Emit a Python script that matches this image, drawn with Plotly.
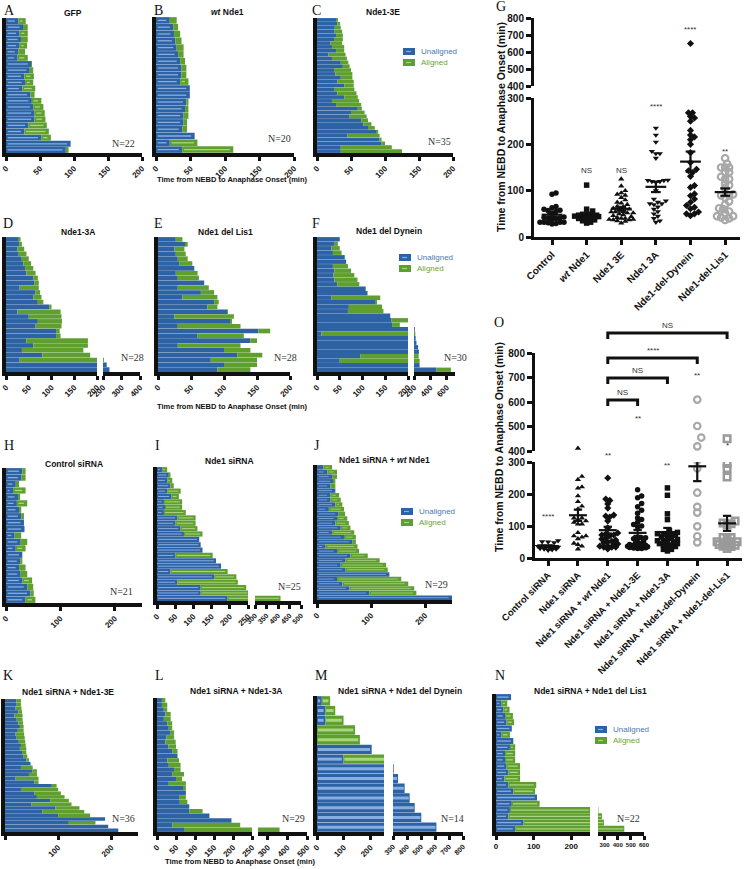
import plotly.graph_objects as go

W, H = 744, 869
SANS = "Liberation Sans"
SERIF = "Liberation Serif"
BLUE, GREEN = "#2d62a5", "#5f9f30"
BLUE_L, GREEN_L = "#86aee2", "#a9d67c"
INK = "#111111"

# ---------------- data (minutes) : unaligned duration, total duration ----------------
gfp_u = [18, 25, 20, 22, 20, 18, 17, 37, 35, 27, 28, 24, 36, 38, 40, 42, 42, 33, 27, 52, 95, 88]
gfp_t = [29, 32, 32, 32, 31, 28, 32, 38, 40, 41, 40, 43, 42, 52, 55, 57, 58, 60, 63, 66, 95, 92]

wt_u = [20, 25, 26, 28, 30, 32, 35, 37, 37, 35, 49, 49, 44, 42, 40, 40, 38, 56, 20, 38]
wt_t = [30, 32, 35, 37, 40, 40, 42, 44, 44, 47, 49, 49, 47, 47, 47, 45, 45, 56, 60, 112]

e3_u = [28, 30, 25, 26, 28, 25, 20, 22, 28, 17, 22, 35, 38, 25, 27, 35, 30, 40, 25, 30, 40, 22, 28, 60, 50,
        48, 65, 68, 75, 88, 45, 92, 95, 35, 35]
e3_t = [30, 34, 35, 37, 38, 38, 37, 40, 40, 42, 44, 46, 48, 50, 52, 52, 54, 54, 55, 58, 60, 62, 65, 66, 70,
        73, 75, 80, 85, 90, 92, 95, 100, 110, 125]

a3_u = [28, 30, 25, 28, 33, 38, 42, 45, 60, 62, 30, 65, 60, 70, 95, 25, 50, 70, 65, 110, 110, 45, 60, 35, 80,
        30, 220, 235]
a3_t = [32, 35, 40, 45, 50, 55, 60, 65, 70, 72, 72, 75, 78, 82, 100, 120, 122, 123, 122, 118, 120, 180, 180,
        170, 185, 205, 220, 235]

dl_u = [27, 42, 25, 27, 30, 32, 55, 27, 30, 70, 30, 65, 37, 85, 75, 105, 25, 110, 30, 152, 60, 140, 30, 100,
        120, 80, 100, 90]
dl_t = [37, 45, 40, 42, 45, 52, 55, 60, 62, 70, 77, 85, 90, 92, 90, 106, 115, 112, 125, 170, 130, 150, 125, 140,
        158, 150, 150, 140]

dd_u = [50, 39, 32, 35, 61, 64, 35, 38, 36, 38, 45, 107, 111, 32, 129, 70, 68, 161, 164, 165, 210, 10, 220, 230,
        250, 260, 95, 50, 268, 475]
dd_t = [50, 46, 50, 54, 61, 64, 68, 75, 82, 89, 93, 107, 111, 139, 131, 143, 146, 161, 200, 182, 210, 216, 220,
        230, 250, 260, 257, 268, 268, 650]

csi_u = [30, 28, 18, 13, 22, 20, 24, 28, 33, 34, 16, 27, 18, 30, 26, 24, 27, 30, 39, 45, 36]
csi_t = [36, 36, 24, 36, 26, 39, 28, 33, 33, 34, 28, 39, 36, 30, 30, 36, 39, 48, 50, 51, 54]

nsi_u = [14, 32, 28, 37, 28, 40, 19, 22, 19, 56, 51, 65, 74, 116, 120, 125, 51, 162, 176, 37, 157, 56, 120, 120, 194]
nsi_t = [28, 37, 42, 46, 65, 60, 69, 69, 79, 106, 106, 111, 125, 116, 120, 125, 153, 162, 176, 194, 218, 222, 245,
         255, 411]

rwt_u = [12, 19, 28, 31, 25, 34, 25, 25, 34, 22, 40, 37, 34, 44, 28, 50, 66, 16, 37, 62, 53, 44, 53, 134, 37, 47,
         60, 97, 250]
rwt_t = [28, 37, 37, 34, 34, 34, 41, 44, 47, 50, 52, 56, 59, 62, 69, 72, 72, 75, 78, 94, 116, 128, 131, 134, 156,
         169, 180, 184, 250]

r3e_u = [21, 22, 20, 25, 18, 22, 25, 28, 24, 20, 22, 26, 30, 28, 32, 35, 40, 48, 30, 51, 45, 20, 55, 88, 30, 55,
         60, 85, 50, 95, 70, 100, 188, 120, 194, 213]
r3e_t = [30, 30, 31, 32, 33, 33, 34, 35, 35, 36, 37, 38, 39, 40, 40, 42, 45, 48, 52, 60, 60, 63, 63, 97, 100, 105,
         112, 120, 125, 140, 149, 160, 188, 170, 194, 213]

r3a_u = [13, 13, 18, 22, 18, 27, 31, 36, 25, 22, 30, 40, 54, 27, 31, 45, 40, 50, 31, 71, 76, 58, 60, 85, 85, 138,
         196, 40, 71]
r3a_t = [22, 27, 27, 36, 36, 40, 40, 45, 45, 49, 50, 54, 54, 58, 62, 62, 71, 66, 76, 76, 76, 76, 80, 85, 120, 138,
         196, 219, 360]

rdd_u = [18, 31, 31, 0, 0, 204, 99, 305, 336, 383, 419, 455, 502, 610]
rdd_t = [49, 68, 99, 142, 160, 204, 280, 305, 336, 383, 419, 455, 502, 610]

rdl_u = [40, 15, 20, 24, 28, 42, 15, 46, 37, 24, 24, 28, 33, 22, 33, 46, 109, 42, 37, 33, 73, 51]
rdl_t = [40, 30, 36, 45, 48, 42, 37, 46, 51, 51, 51, 64, 64, 64, 107, 104, 109, 116, 253, 280, 295, 450]

g_labels = ["Control", "<i>wt</i> Nde1", "Nde1 3E", "Nde1 3A", "Nde1-del-Dynein", "Nde1-del-Lis1"]
g_stars = ["", "NS", "NS", "****", "****", "**"]
o_labels = ["Control siRNA", "Nde1 siRNA", "Nde1 siRNA + <i>wt</i> Nde1", "Nde1 siRNA + Nde1-3E",
            "Nde1 siRNA + Nde1-3A", "Nde1 siRNA + Nde1-del-Dynein", "Nde1 siRNA + Nde1-del-Lis1"]
o_stars = ["****", "", "**", "**", "**", "**", "*"]
o_brackets = [(2, 6, "NS"), (2, 5, "****"), (2, 4, "NS"), (2, 3, "NS")]
xtitle = "Time from NEBD to Anaphase Onset (min)"

# ---------------- helpers ----------------
fig = go.Figure()
lay = dict(width=W, height=H, margin=dict(l=0, r=0, t=0, b=0, autoexpand=False), paper_bgcolor="white",
           plot_bgcolor="rgba(0,0,0,0)", barmode="overlay", showlegend=False,
           font=dict(family=SANS, color=INK))
cnt = {"x": 0, "y": 0}
annots, shapes = [], []


def new_axis(k):
    cnt[k] += 1
    n = cnt[k]
    s = str(n) if n > 1 else ""
    return f"{k}axis{s}", f"{k}{s}"


def fx(p):
    return p / W


def fy(p):
    return 1 - p / H


def text(x, y, s, size=8, family=SANS, color=INK, xanchor="center", angle=0):
    annots.append(dict(x=fx(x), y=fy(y), xref="paper", yref="paper", text=s, showarrow=False,
                       font=dict(family=family, size=size, color=color), xanchor=xanchor,
                       yanchor="middle", textangle=angle))


def bar_panel(u, t, top, bot, segs, angle=-45, stripe=0, tfs=8):
    n = len(t)
    yname, yref = new_axis("y")
    xs = []
    for seg in segs:
        lo, hi, x0, x1, tv = seg[:5]
        fs = seg[5] if len(seg) > 5 else tfs
        xname, xref = new_axis("x")
        lay[xname] = dict(domain=[fx(x0), fx(x1)], range=[lo, hi], anchor=yref, showline=True,
                          linecolor=INK, linewidth=3.5, ticks="outside", tickvals=tv, ticklen=4,
                          tickwidth=3, tickcolor=INK, tickangle=angle, automargin=False,
                          tickfont=dict(family=SANS, size=fs, color=INK, weight="bold"),
                          showgrid=False, zeroline=False, fixedrange=True)
        xs.append(xref)
    lay[yname] = dict(domain=[fy(bot), fy(top)], range=[n - 0.5, -0.5], anchor=xs[0], showline=True,
                      linecolor=INK, linewidth=4, showticklabels=False, ticks="", showgrid=False,
                      zeroline=False, fixedrange=True, automargin=False)
    idx = list(range(n))
    g = [b - a for a, b in zip(u, t)]
    e = 0.025 * (segs[0][1] - segs[0][0])
    bsx, bsy, gsx, gsy = [], [], [], []
    for i in idx:
        if u[i] - 2 * e > 0:
            bsx += [e * 0.5, u[i] - e, None]
            bsy += [i, i, None]
        if g[i] - 2 * e > 0:
            gsx += [u[i] + e * 0.5, t[i] - e, None]
            gsy += [i, i, None]
    for xref in xs:
        fig.add_trace(go.Bar(orientation="h", y=idx, x=u, base=[0] * n, width=0.96,
                             marker=dict(color=BLUE, line=dict(width=0)), xaxis=xref, yaxis=yref,
                             hoverinfo="skip"))
        fig.add_trace(go.Bar(orientation="h", y=idx, x=g, base=u, width=0.96,
                             marker=dict(color=GREEN, line=dict(width=0)), xaxis=xref, yaxis=yref,
                             hoverinfo="skip"))
        if stripe:
            fig.add_trace(go.Scatter(x=bsx, y=bsy, mode="lines", line=dict(color=BLUE_L, width=stripe),
                                     xaxis=xref, yaxis=yref, hoverinfo="skip"))
            fig.add_trace(go.Scatter(x=gsx, y=gsy, mode="lines", line=dict(color=GREEN_L, width=stripe),
                                     xaxis=xref, yaxis=yref, hoverinfo="skip"))


def swarm(vals, ypix, ppx, d, maxc=0.36):
    order = sorted(range(len(vals)), key=lambda i: vals[i])
    placed = []
    offs = [0.0] * len(vals)
    cands = [0.0]
    k = 1
    while k * d * 0.5 / ppx <= maxc:
        cands += [k * d * 0.5, -k * d * 0.5]
        k += 1
    for i in order:
        yv = ypix(vals[i])
        best, bestd = None, -1
        for c in cands:
            md = min([((c - a) ** 2 + (yv - b) ** 2) ** 0.5 for a, b in placed] + [99])
            if md >= d:
                best = c
                break
            if md > bestd:
                bestd, best = md, c
        placed.append((best, yv))
        offs[i] = best / ppx
    return offs


def scatter_panel(groups, styles, labels, xd, xr, low, up, tfs_x=9.5):
    xname, xref = new_axis("x")
    lname, lref = new_axis("y")
    uname, uref = new_axis("y")
    ax = dict(showline=True, linecolor=INK, linewidth=3, ticks="outside", ticklen=5, tickwidth=3,
              tickcolor=INK, showgrid=False, zeroline=False, fixedrange=True, automargin=False,
              tickfont=dict(family=SANS, size=10, color=INK, weight="bold"))
    lay[xname] = dict(ax, domain=[fx(xd[0]), fx(xd[1])], range=xr, anchor=lref,
                      tickvals=list(range(len(labels))), ticktext=labels, tickangle=-45,
                      tickfont=dict(family=SANS, size=tfs_x, color=INK, weight="bold"))
    lay[lname] = dict(ax, domain=[fy(low[1]), fy(low[0])], range=[0, 300], anchor=xref,
                      tickvals=[0, 100, 200, 300])
    lay[uname] = dict(ax, domain=[fy(up[1]), fy(up[0])], range=[400, 800], anchor=xref,
                      tickvals=[400, 500, 600, 700, 800])
    ppx = (xd[1] - xd[0]) / (xr[1] - xr[0])

    def ypix(v):
        if v < 400:
            return low[1] - v * (low[1] - low[0]) / 300
        return up[1] - (v - 400) * (up[1] - up[0]) / 400

    for k, (vals, st) in enumerate(zip(groups, styles)):
        offs = swarm(vals, ypix, ppx, 4.0)
        marker = dict(symbol=st["symbol"], size=st.get("size", 5.5), color=st["color"],
                      line=dict(width=st.get("lw", 0), color=st["color"]))
        for sel, yr in ((lambda v: v < 400, lref), (lambda v: v >= 400, uref)):
            px_ = [k + o for o, v in zip(offs, vals) if sel(v)]
            py_ = [v for v in vals if sel(v)]
            if px_:
                fig.add_trace(go.Scatter(x=px_, y=py_, mode="markers", marker=marker, xaxis=xref,
                                         yaxis=yr, hoverinfo="skip"))
        n = len(vals)
        m = sum(vals) / n
        se = (sum((v - m) ** 2 for v in vals) / (n - 1)) ** 0.5 / n ** 0.5
        xs = [k - 0.3, k + 0.3, None, k, k, None, k - 0.14, k + 0.14, None, k - 0.14, k + 0.14]
        ys = [m, m, None, m - se, m + se, None, m - se, m - se, None, m + se, m + se]
        fig.add_trace(go.Scatter(x=xs, y=ys, mode="lines", line=dict(color=INK, width=2.2),
                                 xaxis=xref, yaxis=lref if m < 300 else uref, hoverinfo="skip"))
    return xref


# ---------------- bar panels ----------------
T5 = [0, 50, 100, 150, 200]
# row 1
bar_panel(gfp_u, gfp_t, 18, 153, [(0, 200, 6, 142, T5)], stripe=1.3)
bar_panel(wt_u, wt_t, 17, 153, [(0, 200, 156, 294, T5)], stripe=1.3)
bar_panel(e3_u, e3_t, 18, 153, [(0, 200, 317, 453, T5)])
# row 2
bar_panel(a3_u, a3_t, 237, 372, [(0, 200, 6, 97, T5), (200, 400, 103, 140, [200, 300, 400])])
bar_panel(dl_u, dl_t, 237, 372, [(0, 200, 158, 290, T5)])
bar_panel(dd_u, dd_t, 237, 372, [(0, 200, 317, 408, T5), (200, 700, 414, 455, [200, 400, 600])])
# row 3
bar_panel(csi_u, csi_t, 468, 603, [(0, 250, 6, 142, [0, 100, 200])], stripe=1.3)
bar_panel(nsi_u, nsi_t, 467, 601, [(0, 250, 157, 248, [0, 50, 100, 150, 200, 250]),
                                   (300, 500, 255, 301, [300, 350, 400, 450, 500], 7)], stripe=1.0)
bar_panel(rwt_u, rwt_t, 465, 600, [(0, 250, 317, 452, [0, 100, 200])], stripe=0.8)
# row 4
bar_panel(r3e_u, r3e_t, 699, 832, [(0, 250, 5, 138, [0, 100, 200])])
bar_panel(r3a_u, r3a_t, 698, 832, [(0, 250, 157, 252, [0, 50, 100, 150, 200, 250]),
                                   (250, 500, 258, 307, [300, 400, 500])])
bar_panel(rdd_u, rdd_t, 696, 832, [(0, 250, 317, 384, [0, 100, 200]),
                                   (300, 800, 393, 463, [300, 400, 500, 600, 700, 800], 7)], stripe=3)
bar_panel(rdl_u, rdl_t, 694, 832, [(0, 250, 496, 590, [0, 100, 200]),
                                   (250, 600, 598, 644, [300, 400, 500, 600], 6)], angle=0, stripe=1.3)

# ---------------- scatter panels ----------------
blk = INK
g_styles = [dict(symbol="circle", color=blk), dict(symbol="square", color=blk),
            dict(symbol="triangle-up", color=blk), dict(symbol="triangle-down", color=blk),
            dict(symbol="diamond", color=blk),
            dict(symbol="circle-open", color="#a8a8a8", lw=2.2, size=6.5)]
gx = scatter_panel([gfp_t, wt_t, e3_t, a3_t, dd_t, dl_t], g_styles, g_labels, (534, 740), [-0.52, 5.43],
                   (98, 237), (18, 86), tfs_x=10)
o_styles = [dict(symbol="triangle-down", color=blk), dict(symbol="triangle-up", color=blk),
            dict(symbol="diamond", color=blk), dict(symbol="circle", color=blk),
            dict(symbol="square", color=blk),
            dict(symbol="circle-open", color="#a8a8a8", lw=2.2, size=6.5),
            dict(symbol="square-open", color="#9a9a9a", lw=2.5, size=6.5)]
ox = scatter_panel([csi_t, nsi_t, rwt_t, r3e_t, r3a_t, rdd_t, rdl_t], o_styles, o_labels, (535, 742),
                   [-0.44, 6.5], (462, 558), (353, 451), tfs_x=9.5)

g_star_y = [0, 164, 164, 100, 23, 145]
for k, s in enumerate(g_stars):
    if s:
        annots.append(dict(x=k, y=fy(g_star_y[k]), xref=gx, yref="paper", text=s, showarrow=False,
                           font=dict(family=SANS, size=8, color="#333333")))
o_star_y = [516, 0, 455, 418, 465, 376, 445]
for k, s in enumerate(o_stars):
    if s:
        annots.append(dict(x=k, y=fy(o_star_y[k]), xref=ox, yref="paper", text=s, showarrow=False,
                           font=dict(family=SANS, size=8, color="#333333")))
br_y = [333, 358, 378, 400]
for (a, b, s), yy in zip(o_brackets, br_y):
    shapes.append(dict(type="path", xref=ox, yref="paper",
                       path=f"M {a},{fy(yy + 6)} L {a},{fy(yy)} L {b},{fy(yy)} L {b},{fy(yy + 6)}",
                       line=dict(color=INK, width=3)))
    annots.append(dict(x=(a + b) / 2, y=fy(yy - 8), xref=ox, yref="paper", text=s, showarrow=False,
                       font=dict(family=SANS, size=8, color="#333333")))

text(501, 127, "<b>" + xtitle + "</b>", size=10.5, angle=-90)
text(499, 447, "<b>" + xtitle + "</b>", size=10.5, angle=-90)

# ---------------- labels ----------------
letters = [("A", 2, 10), ("B", 152, 10), ("C", 310, 10), ("G", 494, 6), ("D", 1, 223), ("E", 152, 223),
           ("F", 310, 223), ("O", 492, 323), ("H", 2, 445), ("I", 153, 445), ("J", 312, 445),
           ("K", 1, 675), ("L", 153, 675), ("M", 313, 675), ("N", 493, 675)]
for s, x, y in letters:
    text(x, y, s, size=14, family=SERIF, xanchor="left")

titles = [("GFP", 73, 13), ("<i>wt</i> Nde1", 227, 12), ("Nde1-3E", 383, 12), ("Nde1-3A", 78, 232),
          ("Nde1 del Lis1", 225, 232), ("Nde1 del Dynein", 389, 231), ("Control siRNA", 74, 464),
          ("Nde1 siRNA", 229, 461), ("Nde1 siRNA + <i>wt</i> Nde1", 384, 460),
          ("Nde1 siRNA + Nde1-3E", 68, 692), ("Nde1 siRNA + Nde1-3A", 236, 691),
          ("Nde1 siRNA + Nde1 del Dynein", 400, 691), ("Nde1 siRNA + Nde1 del Lis1", 590, 691)]
for s, x, y in titles:
    text(x, y, "<b>" + s + "</b>", size=8.5)

ns = [("N=22", 123, 144), ("N=20", 279, 138), ("N=35", 439, 141), ("N=28", 132, 357), ("N=28", 285, 357),
      ("N=30", 455, 357), ("N=21", 121, 591), ("N=25", 289, 586), ("N=29", 436, 584), ("N=36", 123, 818),
      ("N=29", 293, 818), ("N=14", 452, 818), ("N=22", 628, 818)]
for s, x, y in ns:
    text(x, y, s, size=10, family=SERIF, color="#333333")

for x, y in ((232, 179), (232, 406), (240, 861)):
    text(x, y, "<b>" + xtitle + "</b>", size=7.5)

# custom legends
for lx, ly in ((403, 48), (399, 254), (401, 508), (595, 726)):
    for j, (col, lcol, lab, tcol) in enumerate(((BLUE, BLUE_L, "Unaligned", "#4a78b5"),
                                                 (GREEN, GREEN_L, "Aligned", "#6aa536"))):
        y0 = ly + j * 11
        shapes.append(dict(type="rect", xref="paper", yref="paper", x0=fx(lx), x1=fx(lx + 12),
                           y0=fy(y0 + 7), y1=fy(y0), fillcolor=col, line=dict(width=0)))
        shapes.append(dict(type="line", xref="paper", yref="paper", x0=fx(lx + 3), x1=fx(lx + 8),
                           y0=fy(y0 + 3.5), y1=fy(y0 + 3.5), line=dict(color=lcol, width=1.2)))
        text(lx + 16, y0 + 3.5, lab, size=8, color=tcol, xanchor="left")

lay["annotations"] = annots
lay["shapes"] = shapes
fig.update_layout(**lay)
fig.write_html("out.html", config={"displayModeBar": False},
               post_script="document.body.style.margin='0';document.body.style.overflow='hidden';")
